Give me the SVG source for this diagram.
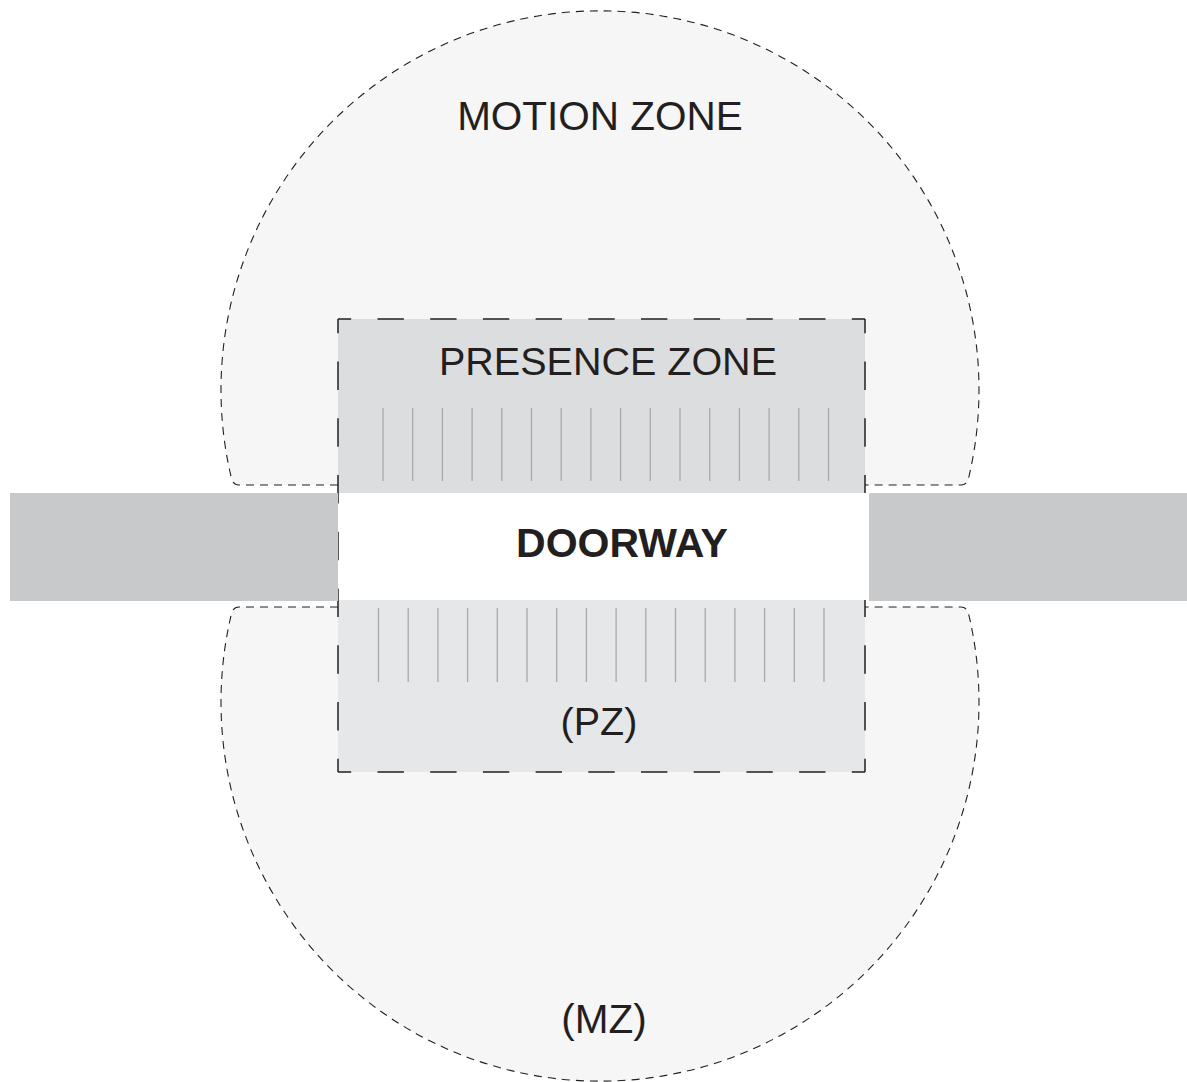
<svg xmlns="http://www.w3.org/2000/svg" width="1187" height="1082" viewBox="0 0 1187 1082">
  <style>
    .mz { fill: #f6f6f6; stroke: #231f20; stroke-width: 1.1; stroke-dasharray: 8 6; }
    .pzh { stroke: #231f20; stroke-width: 1.5; fill: none; stroke-dasharray: 26.35 26.35; stroke-dashoffset: 13.18; }
    .pzv { stroke: #231f20; stroke-width: 1.5; fill: none; stroke-dasharray: 28.375 28.375; stroke-dashoffset: 14.19; }
    .hatch { stroke: #a7a9ac; stroke-width: 1.3; }
    .wall { fill: #c8c9cb; }
    .lbl { font-family: "Liberation Sans", Arial, sans-serif; fill: #231f20; text-anchor: middle; }
  </style>
  <rect x="0" y="0" width="1187" height="1082" fill="#ffffff"/>
  <g id="motion-zone">
    <path class="mz" d="M338,485 L239,485 Q233,485 231.4,478 A379,379 0 1 1 968.6,478 Q967,485 961,485 L865,485 Z"/>
    <path class="mz" d="M338,607 L239,607 Q233,607 231.4,614 A379,379 0 1 0 968.6,614 Q967,607 961,607 L865,607 Z"/>
  </g>
  <g id="presence-zone">
    <rect x="338" y="319" width="527" height="174" fill="#dcdddf"/>
    <rect x="338" y="600" width="527" height="172" fill="#e6e7e8"/>
    <g id="hatch-upper" class="hatch">
      <line x1="383" y1="408" x2="383" y2="481"/>
      <line x1="412.7" y1="408" x2="412.7" y2="481"/>
      <line x1="442.4" y1="408" x2="442.4" y2="481"/>
      <line x1="472.1" y1="408" x2="472.1" y2="481"/>
      <line x1="501.8" y1="408" x2="501.8" y2="481"/>
      <line x1="531.5" y1="408" x2="531.5" y2="481"/>
      <line x1="561.2" y1="408" x2="561.2" y2="481"/>
      <line x1="590.9" y1="408" x2="590.9" y2="481"/>
      <line x1="620.6" y1="408" x2="620.6" y2="481"/>
      <line x1="650.3" y1="408" x2="650.3" y2="481"/>
      <line x1="680" y1="408" x2="680" y2="481"/>
      <line x1="709.7" y1="408" x2="709.7" y2="481"/>
      <line x1="739.4" y1="408" x2="739.4" y2="481"/>
      <line x1="769.1" y1="408" x2="769.1" y2="481"/>
      <line x1="798.8" y1="408" x2="798.8" y2="481"/>
      <line x1="828.5" y1="408" x2="828.5" y2="481"/>
    </g>
    <g id="hatch-lower" class="hatch">
      <line x1="378.5" y1="608" x2="378.5" y2="682"/>
      <line x1="408.2" y1="608" x2="408.2" y2="682"/>
      <line x1="437.9" y1="608" x2="437.9" y2="682"/>
      <line x1="467.6" y1="608" x2="467.6" y2="682"/>
      <line x1="497.3" y1="608" x2="497.3" y2="682"/>
      <line x1="527" y1="608" x2="527" y2="682"/>
      <line x1="556.7" y1="608" x2="556.7" y2="682"/>
      <line x1="586.4" y1="608" x2="586.4" y2="682"/>
      <line x1="616.1" y1="608" x2="616.1" y2="682"/>
      <line x1="645.8" y1="608" x2="645.8" y2="682"/>
      <line x1="675.5" y1="608" x2="675.5" y2="682"/>
      <line x1="705.2" y1="608" x2="705.2" y2="682"/>
      <line x1="734.9" y1="608" x2="734.9" y2="682"/>
      <line x1="764.6" y1="608" x2="764.6" y2="682"/>
      <line x1="794.3" y1="608" x2="794.3" y2="682"/>
      <line x1="824" y1="608" x2="824" y2="682"/>
    </g>
    <line class="pzh" x1="338" y1="319" x2="865" y2="319"/>
    <line class="pzh" x1="338" y1="772" x2="865" y2="772"/>
    <line class="pzv" x1="338" y1="319" x2="338" y2="772"/>
    <line class="pzv" x1="865" y1="319" x2="865" y2="772"/>
  </g>
  <g id="doorway">
    <rect x="339" y="493" width="529" height="107" fill="#ffffff"/>
  </g>
  <g id="walls">
    <rect class="wall" x="10" y="493" width="328" height="108"/>
    <rect class="wall" x="869" y="493" width="318" height="108"/>
  </g>
  <g id="labels">
    <text class="lbl" x="600" y="130" font-size="40.5">MOTION ZONE</text>
    <text class="lbl" x="608" y="375" font-size="39.5">PRESENCE ZONE</text>
    <text class="lbl" x="622" y="557" font-size="41" font-weight="bold">DOORWAY</text>
    <text class="lbl" x="599" y="735" font-size="39.5">(PZ)</text>
    <text class="lbl" x="604" y="1033" font-size="40.5">(MZ)</text>
  </g>
</svg>
